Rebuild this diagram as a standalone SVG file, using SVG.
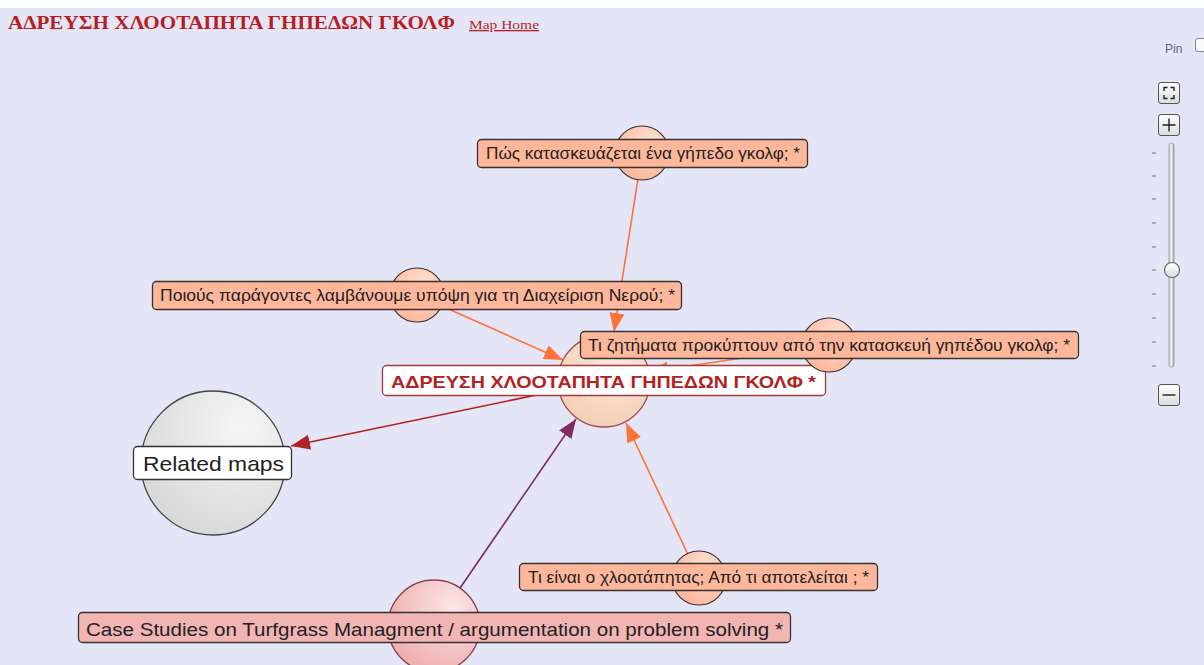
<svg xmlns="http://www.w3.org/2000/svg" width="1204" height="665" viewBox="0 0 1204 665">
  <defs>
    <style>
      .lbl { font-family: "Liberation Sans", Arial, sans-serif; fill: #222; }
      .box-salmon { fill: #ffb79b; stroke: #333; stroke-width: 1.3; }
      .circ-salmon { fill: url(#gSalmon); stroke: #333; stroke-width: 1.2; }
      .edge { fill: none; stroke-width: 1.6; }
      .orange { stroke: #ff7238; }
      .btn { fill: url(#gBtn); stroke: #555; stroke-width: 1; }
      .ctl { stroke: #222; stroke-width: 1.4; fill: none; }
      .tick { stroke: #999; stroke-width: 1.5; }
    </style>
    <radialGradient id="gSalmon" cx="0.65" cy="0.3" r="0.8">
      <stop offset="0" stop-color="#ffe1d2"/>
      <stop offset="1" stop-color="#ffb395"/>
    </radialGradient>
    <radialGradient id="gCenter" cx="0.6" cy="0.3" r="0.8">
      <stop offset="0" stop-color="#fbeade"/>
      <stop offset="1" stop-color="#f2cbb2"/>
    </radialGradient>
    <radialGradient id="gPink" cx="0.7" cy="0.3" r="0.8">
      <stop offset="0" stop-color="#fbe6e6"/>
      <stop offset="1" stop-color="#eeabab"/>
    </radialGradient>
    <radialGradient id="gGray" cx="0.7" cy="0.25" r="0.85">
      <stop offset="0" stop-color="#f6f6f6"/>
      <stop offset="1" stop-color="#d6d6d6"/>
    </radialGradient>
    <linearGradient id="gBtn" x1="0" y1="0" x2="0" y2="1">
      <stop offset="0" stop-color="#ffffff"/>
      <stop offset="1" stop-color="#dcdcdc"/>
    </linearGradient>
    <linearGradient id="gTrack" x1="0" y1="0" x2="1" y2="0">
      <stop offset="0" stop-color="#c8c8c8"/>
      <stop offset="0.5" stop-color="#f4f4f4"/>
      <stop offset="1" stop-color="#9a9a9a"/>
    </linearGradient>
    <marker id="arrOrange" markerUnits="userSpaceOnUse" markerWidth="20" markerHeight="16" refX="19" refY="7.5" orient="auto">
      <path d="M0,0 L19,7.5 L0,15 z" fill="#ff7238"/>
    </marker>
    <marker id="arrPurple" markerUnits="userSpaceOnUse" markerWidth="20" markerHeight="16" refX="19" refY="7.5" orient="auto">
      <path d="M0,0 L19,7.5 L0,15 z" fill="#7d2d60"/>
    </marker>
    <marker id="arrRed" markerUnits="userSpaceOnUse" markerWidth="20" markerHeight="16" refX="19" refY="7.5" orient="auto">
      <path d="M0,0 L19,7.5 L0,15 z" fill="#b22222"/>
    </marker>
  </defs>

  <!-- page background -->
  <rect x="0" y="0" width="1204" height="665" fill="#ffffff"/>
  <rect x="0" y="8" width="1204" height="657" fill="#e5e5f8"/>

  <!-- header -->
  <g id="header">
    <text x="8" y="29" font-family="'Liberation Serif', 'Times New Roman', serif" font-weight="bold" font-size="19" fill="#b51f1f" textLength="447" lengthAdjust="spacingAndGlyphs">ΑΔΡΕΥΣΗ ΧΛΟΟΤΑΠΗΤΑ ΓΗΠΕΔΩΝ ΓΚΟΛΦ</text>
    <text x="469" y="29" font-family="'Liberation Serif', 'Times New Roman', serif" font-size="13" fill="#b51f1f" text-decoration="underline" textLength="70" lengthAdjust="spacingAndGlyphs">Map Home</text>
  </g>

  <!-- zoom controls -->
  <g id="controls">
    <text x="1165" y="53" font-family="'Liberation Sans', Arial, sans-serif" font-size="12" fill="#666">Pin</text>
    <rect x="1195.5" y="38.5" width="12" height="13" rx="2.5" fill="#fafafa" stroke="#888"/>
    <rect class="btn" x="1158.5" y="82.5" width="21" height="21" rx="2.5"/>
    <path class="ctl" d="M1164,91 v-3.5 h3.5 M1170.5,87.5 h3.5 v3.5 M1174,95 v3.5 h-3.5 M1167.5,98.5 h-3.5 v-3.5"/>
    <rect class="btn" x="1158.5" y="114.5" width="21" height="21" rx="2.5"/>
    <path class="ctl" d="M1162.5,125 h13 M1169,118.5 v13"/>
    <rect x="1169" y="143" width="5" height="224" rx="2.5" fill="url(#gTrack)" stroke="#999" stroke-width="0.8"/>
    <g class="tick">
      <line x1="1152" y1="153" x2="1156" y2="153"/>
      <line x1="1152" y1="176" x2="1156" y2="176"/>
      <line x1="1152" y1="199" x2="1156" y2="199"/>
      <line x1="1152" y1="223" x2="1156" y2="223"/>
      <line x1="1152" y1="247" x2="1156" y2="247"/>
      <line x1="1152" y1="270" x2="1156" y2="270"/>
      <line x1="1152" y1="294" x2="1156" y2="294"/>
      <line x1="1152" y1="318" x2="1156" y2="318"/>
      <line x1="1152" y1="342" x2="1156" y2="342"/>
      <line x1="1152" y1="366" x2="1156" y2="366"/>
    </g>
    <circle cx="1172" cy="270" r="7.5" fill="url(#gBtn)" stroke="#666" stroke-width="1.2"/>
    <rect class="btn" x="1158.5" y="384.5" width="21" height="21" rx="2.5"/>
    <path class="ctl" d="M1162.5,395 h13"/>
  </g>

  <!-- connectors -->
  <g id="connectors">
    <line class="edge orange" x1="642" y1="153" x2="614" y2="332" marker-end="url(#arrOrange)"/>
    <line class="edge orange" x1="417" y1="295" x2="563" y2="360" marker-end="url(#arrOrange)"/>
    <line class="edge orange" x1="829" y1="345" x2="649" y2="372" marker-end="url(#arrOrange)"/>
    <line class="edge orange" x1="699" y1="578" x2="626" y2="423" marker-end="url(#arrOrange)"/>
    <line class="edge" stroke="#7d2d60" x1="434" y1="626" x2="576" y2="419" marker-end="url(#arrPurple)"/>
    <line class="edge" stroke="#b22222" x1="604" y1="381" x2="291" y2="446" marker-end="url(#arrRed)"/>
  </g>

  <!-- Related maps -->
  <g id="node-related">
    <circle cx="213" cy="463" r="72" fill="url(#gGray)" stroke="#444" stroke-width="1.3"/>
    <rect x="133.5" y="446.5" width="158" height="33" rx="4" fill="#ffffff" stroke="#333" stroke-width="1.3"/>
    <text class="lbl" x="143" y="471" font-size="21" textLength="141" lengthAdjust="spacingAndGlyphs">Related maps</text>
  </g>

  <!-- Case studies -->
  <g id="node-case-studies">
    <circle cx="434" cy="626" r="46" fill="url(#gPink)" stroke="#8a4050" stroke-width="1.3"/>
    <rect x="78.5" y="612.5" width="712" height="30" rx="4" fill="#f3b4b4" stroke="#333" stroke-width="1.3"/>
    <text class="lbl" x="86" y="636" font-size="19" textLength="697" lengthAdjust="spacingAndGlyphs">Case Studies on Turfgrass Managment / argumentation on problem solving *</text>
  </g>

  <!-- Τι είναι ο χλοοτάπητας -->
  <g id="node-turf">
    <circle class="circ-salmon" cx="699" cy="578" r="27"/>
    <rect class="box-salmon" x="519.5" y="563.5" width="358" height="27" rx="4"/>
    <text class="lbl" x="528" y="583" font-size="16" textLength="341" lengthAdjust="spacingAndGlyphs">Τι είναι ο χλοοτάπητας; Από τι αποτελείται ; *</text>
  </g>

  <!-- Πώς κατασκευάζεται -->
  <g id="node-construction">
    <circle class="circ-salmon" cx="642" cy="153" r="27"/>
    <rect class="box-salmon" x="477.5" y="139.5" width="330" height="28" rx="4"/>
    <text class="lbl" x="486" y="159" font-size="16" textLength="314" lengthAdjust="spacingAndGlyphs">Πώς κατασκευάζεται ένα γήπεδο γκολφ; *</text>
  </g>

  <!-- Ποιούς παράγοντες -->
  <g id="node-water">
    <circle class="circ-salmon" cx="417" cy="295" r="27"/>
    <rect class="box-salmon" x="152.5" y="281.5" width="529" height="28" rx="4"/>
    <text class="lbl" x="160" y="301" font-size="16" textLength="515" lengthAdjust="spacingAndGlyphs">Ποιούς παράγοντες λαμβάνουμε υπόψη για τη Διαχείριση Νερού; *</text>
  </g>

  <!-- central topic -->
  <g id="node-center">
    <circle cx="604" cy="381" r="46" fill="url(#gCenter)" stroke="#a0504a" stroke-width="1.3"/>
    <rect x="382.5" y="365.5" width="443" height="30" rx="4" fill="#ffffff" stroke="#a33a3a" stroke-width="1.3"/>
    <text x="391" y="388" font-family="'Liberation Sans', Arial, sans-serif" font-weight="bold" font-size="17" fill="#b22222" textLength="425" lengthAdjust="spacingAndGlyphs">ΑΔΡΕΥΣΗ ΧΛΟΟΤΑΠΗΤΑ ΓΗΠΕΔΩΝ ΓΚΟΛΦ *</text>
  </g>

  <!-- Τι ζητήματα προκύπτουν -->
  <g id="node-issues">
    <circle class="circ-salmon" cx="829" cy="345" r="27"/>
    <rect class="box-salmon" x="580.5" y="331.5" width="498" height="27" rx="4"/>
    <text class="lbl" x="588" y="351" font-size="16" textLength="482" lengthAdjust="spacingAndGlyphs">Τι ζητήματα προκύπτουν από την κατασκευή γηπέδου γκολφ; *</text>
  </g>
</svg>
